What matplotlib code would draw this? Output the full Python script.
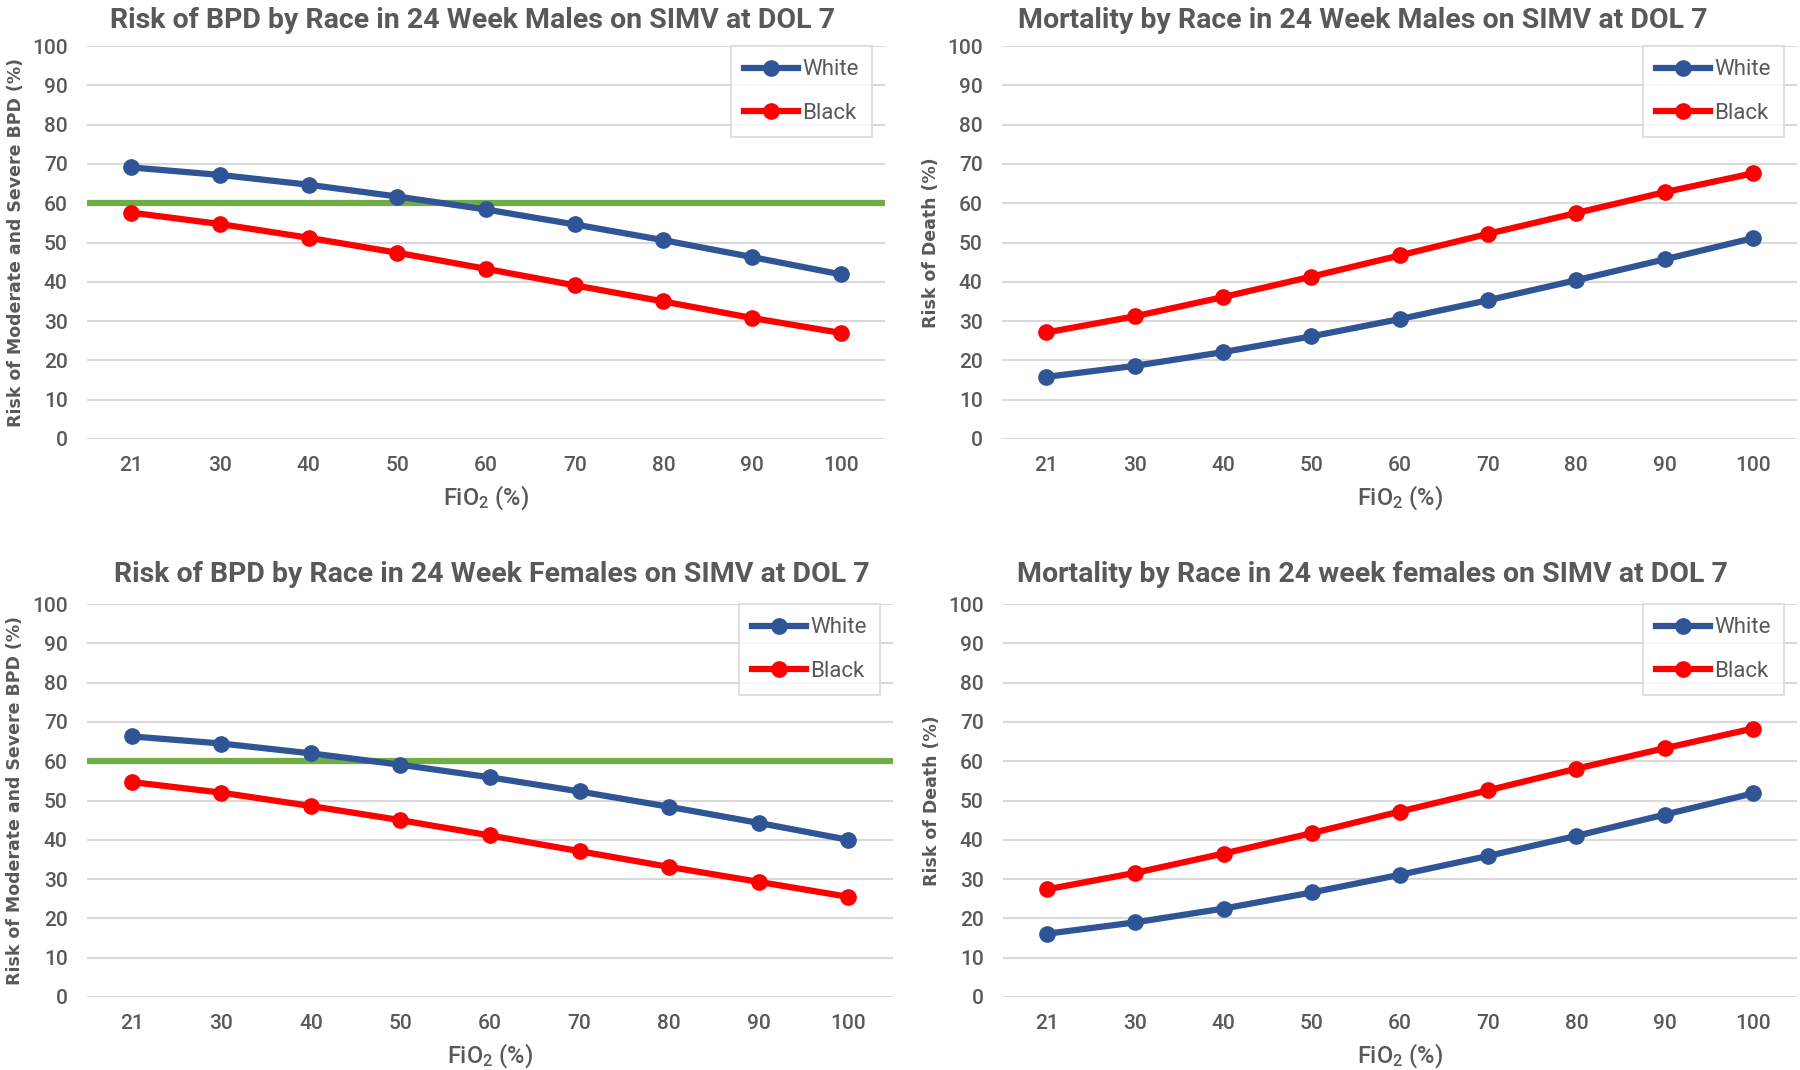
import numpy as np
import matplotlib
matplotlib.use("Agg")
import matplotlib.pyplot as plt

fio2 = ["21", "30", "40", "50", "60", "70", "80", "90", "100"]

# BPD risk, males
bpd_m_white = [69.1, 67.2, 64.7, 61.7, 58.4, 54.6, 50.6, 46.3, 41.9]
bpd_m_black = [57.6, 54.7, 51.2, 47.4, 43.3, 39.1, 35.0, 30.8, 27.0]
# mortality, males
mort_m_white = [15.8, 18.6, 22.1, 26.1, 30.5, 35.3, 40.4, 45.7, 51.1]
mort_m_black = [27.1, 31.2, 36.1, 41.3, 46.7, 52.2, 57.5, 62.8, 67.6]
# BPD risk, females
bpd_f_white = [66.3, 64.5, 62.0, 59.1, 55.9, 52.3, 48.4, 44.3, 40.0]
bpd_f_black = [54.7, 52.0, 48.6, 45.0, 41.1, 37.1, 33.1, 29.3, 25.5]
# mortality, females
mort_f_white = [16.1, 19.0, 22.5, 26.6, 31.1, 35.9, 41.0, 46.4, 51.8]
mort_f_black = [27.4, 31.6, 36.5, 41.7, 47.2, 52.6, 58.1, 63.3, 68.3]

threshold = 60

titles = ["Risk of BPD by Race in 24 Week Males on SIMV at DOL 7",
          "Mortality by Race in 24 Week Males on SIMV at DOL 7",
          "Risk of BPD by Race in 24 Week Females on SIMV at DOL 7",
          "Mortality by Race in 24 week females on SIMV at DOL 7"]
ylabels = ["Risk of Moderate and Severe BPD (%)", "Risk of Death (%)",
           "Risk of Moderate and Severe BPD (%)", "Risk of Death (%)"]

BLUE = "#2F5597"
RED = "#FF0000"
GREEN = "#70AD47"
GRAY = "#595959"

plt.rcParams["font.family"] = ["Roboto", "DejaVu Sans"]
plt.rcParams["mathtext.default"] = "regular"

W, H = 1800, 1070
fig = plt.figure(figsize=(W / 100, H / 100), dpi=100)

# left, right, top, bottom in pixels
boxes = [(87, 885, 46, 439),
         (1002, 1797, 46, 439),
         (87, 893, 604, 997),
         (1003, 1797, 604, 997)]
# title centres (chart area centre), pixels
title_pos = [(473, 21), (1363, 21), (492, 574), (1372, 574)]
series = [(bpd_m_white, bpd_m_black, True),
          (mort_m_white, mort_m_black, False),
          (bpd_f_white, bpd_f_black, True),
          (mort_f_white, mort_f_black, False)]

for i in range(4):
    l, r, t, b = boxes[i]
    ax = fig.add_axes([l / W, 1 - b / H, (r - l) / W, (b - t) / H])
    white, black, thr = series[i]
    x = np.arange(len(fio2))
    ax.set_ylim(0, 100)
    ax.set_xlim(-0.5, len(fio2) - 0.5)
    ax.set_yticks(range(0, 101, 10))
    ax.grid(axis="y", color="#D9D9D9", lw=1.5)
    ax.set_axisbelow(True)
    for s in ax.spines.values():
        s.set_visible(False)
    ax.tick_params(length=0, labelsize=15, colors=GRAY, pad=12)
    ax.tick_params(axis="y", pad=14)
    ax.set_xticks(x)
    ax.set_xticklabels(fio2)
    for lab in ax.get_xticklabels() + ax.get_yticklabels():
        lab.set_fontweight("medium")
    if thr:
        ax.axhline(threshold, color=GREEN, lw=4.5, zorder=2)
    ax.plot(x, white, color=BLUE, lw=4.5, marker="o", ms=11, label="White", zorder=3)
    ax.plot(x, black, color=RED, lw=4.5, marker="o", ms=11, label="Black", zorder=3)
    tx, ty = title_pos[i]
    fig.text(tx / W, 1 - ty / H, titles[i], fontsize=20.5, fontweight="bold",
             color=GRAY, ha="center", va="center")
    ax.set_xlabel("FiO$_2$ (%)", fontsize=17, fontweight="medium", color=GRAY, labelpad=6)
    ax.set_ylabel(ylabels[i], fontsize=12.5, fontweight="bold", color=GRAY,
                  family="DejaVu Sans")
    ax.yaxis.set_label_coords(-0.078, 0.5)
    leg = ax.legend(loc="upper right", bbox_to_anchor=(1 - 13 / (r - l), 1.0), fontsize=16,
                    frameon=True, fancybox=False, labelspacing=1.0,
                    handlelength=2.4, handletextpad=0.2, borderpad=0.6,
                    borderaxespad=0.0)
    leg.get_frame().set_edgecolor("#D9D9D9")
    leg.get_frame().set_linewidth(1.5)
    for txt in leg.get_texts():
        txt.set_color(GRAY)

fig.savefig("out.png", dpi=100)
